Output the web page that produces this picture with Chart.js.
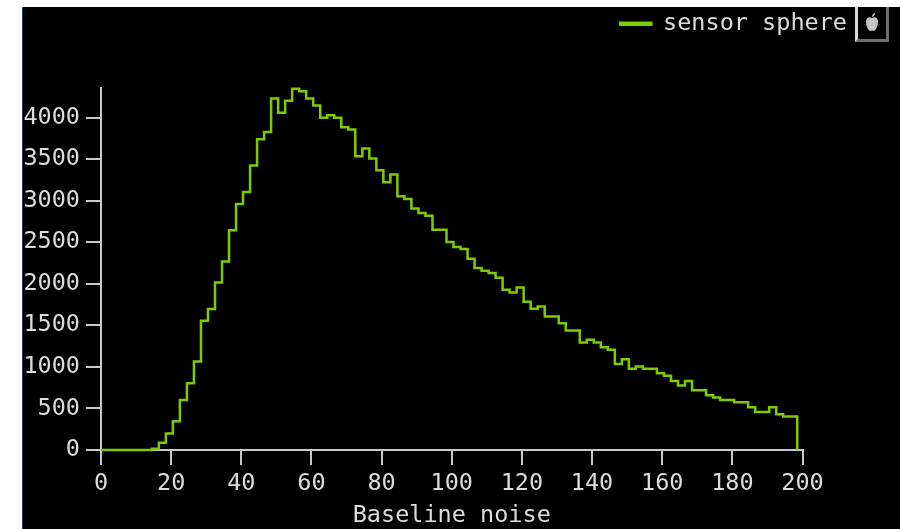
<!DOCTYPE html>
<html>
<head>
<meta charset="utf-8">
<title>Baseline noise</title>
<script src="https://cdn.jsdelivr.net/npm/chart.js@4"></script>
<style>
    html, body { margin: 0; padding: 0; background: #fff; width: 900px; height: 529px; overflow: hidden; }
    #panel { position: absolute; left: 22px; top: 7px; width: 878px; height: 522px; background: #000; border-left: 1px solid #26405f; box-sizing: border-box; }
    #plot { position: absolute; left: 0; top: 0; }
    #icon { position: absolute; left: 855px; top: 7px; width: 34px; height: 35px; box-sizing: border-box; border-left: 3px solid #d8d8d8; border-right: 3px solid #6e6e6e; border-bottom: 3px solid #6e6e6e; }
</style>
</head>
<body>
<div id="panel"></div>
<canvas id="plot" width="900" height="529"></canvas>
<div id="icon">
    <svg width="28" height="32" viewBox="0 0 28 32">
        <path d="M14 11c-2-1.500-6-1.200-6 4 0 4 2.500 9 4.500 9 .8 0 1-.6 1.500-.6s.7.600 1.500.6c2 0 4.500-5 4.500-9 0-5.200-4-5.500-6-4z" fill="#c4c4c4"/>
        <path d="M14 10c0-2 1-3.500 3-4 0 2-1 3.500-3 4z" fill="#c4c4c4"/>
    </svg>
</div>
<script>
const seriesName = 'sensor sphere';
const xTitle = 'Baseline noise';

// left edge of each histogram bin, the first and last are where the trace starts and drops to 0
const binEdges = [0, 14.5, 16.5, 18.5, 20.5, 22.5, 24.5, 26.5, 28.5, 30.5, 32.5, 34.5, 36.5, 38.5, 40.5, 42.5, 44.5, 46.5, 48.5,
    50.5, 52.5, 54.5, 56.5, 58.5, 60.5, 62.5, 64.5, 66.5, 68.5, 70.5, 72.5, 74.5, 76.5, 78.5, 80.5, 82.5, 84.5, 86.5, 88.5,
    90.5, 92.5, 94.5, 96.5, 98.5, 100.5, 102.5, 104.5, 106.5, 108.5, 110.5, 112.5, 114.5, 116.5, 118.5, 120.5, 122.5, 124.5,
    126.5, 128.5, 130.5, 132.5, 134.5, 136.5, 138.5, 140.5, 142.5, 144.5, 146.5, 148.5, 150.5, 152.5, 154.5, 156.5, 158.5,
    160.5, 162.5, 164.5, 166.5, 168.5, 170.5, 172.5, 174.5, 176.5, 178.5, 180.5, 182.5, 184.5, 186.5, 188.5, 190.5, 192.5,
    194.5, 196.5, 198.5];
const binCounts = [0, 15, 88, 200, 345, 602, 803, 1064, 1554, 1695, 2016, 2269, 2643, 2960, 3104, 3422, 3739, 3827, 4229,
    4056, 4201, 4345, 4317, 4229, 4145, 3996, 4028, 3996, 3884, 3855, 3534, 3627, 3506, 3365, 3221, 3313, 3052, 3020, 2904,
    2851, 2819, 2651, 2651, 2502, 2442, 2418, 2301, 2189, 2157, 2129, 2072, 1928, 1895, 1955, 1783, 1699, 1727,
    1606, 1606, 1526, 1438, 1438, 1293, 1325, 1293, 1237, 1205, 1036, 1092, 976, 1004, 976, 976, 924,
    892, 831, 775, 831, 719, 719, 659, 631, 602, 602, 574, 574, 514, 458, 458, 514, 430,
    402, 402, 0];

const xTicks = [0, 20, 40, 60, 80, 100, 120, 140, 160, 180, 200];
const yTicks = [0, 500, 1000, 1500, 2000, 2500, 3000, 3500, 4000];

const axisColor = '#c8c8c8';
const textColor = '#dcdcdc';
const traceColor = '#7ccc00';
const monoFont = { family: '"DejaVu Sans Mono", monospace', size: 23.5 };

const points = [];
for (let i = 0; i < binEdges.length; i++) {
    points.push({ x: binEdges[i], y: binCounts[i] });
}

function plainLabel(value) {
    return String(value);
}

// empty axes, they only reserve the space around the plot that the legend does not need
const spacerAxis = {
    display: true,
    grid: { display: false },
    border: { display: false },
    ticks: { display: false }
};

new Chart(document.getElementById('plot'), {
    type: 'scatter',
    data: {
        datasets: [{
            label: seriesName,
            data: points,
            showLine: true,
            stepped: true,
            borderColor: traceColor,
            backgroundColor: traceColor,
            borderWidth: 2.5,
            pointRadius: 0,
            clip: false
        }]
    },
    options: {
        responsive: false,
        animation: false,
        layout: { padding: { top: 1, right: 42, bottom: 0, left: 0 } },
        plugins: {
            tooltip: { enabled: false },
            legend: {
                position: 'top',
                align: 'end',
                labels: {
                    color: textColor,
                    font: monoFont,
                    boxWidth: 31,
                    boxHeight: 2,
                    padding: 11
                }
            }
        },
        scales: {
            x: {
                type: 'linear',
                min: 0,
                max: 200,
                afterBuildTicks: function (scale) {
                    scale.ticks = xTicks.map(function (v) { return { value: v }; });
                },
                afterFit: function (scale) {
                    scale.height = 79;
                },
                grid: { drawOnChartArea: false, color: axisColor, lineWidth: 2, tickLength: 15 },
                border: { color: axisColor, width: 2 },
                ticks: { color: textColor, font: monoFont, padding: 5, maxRotation: 0, autoSkip: false, callback: plainLabel },
                title: { display: true, text: xTitle, color: textColor, font: monoFont, padding: { top: 4, bottom: -1 } }
            },
            y: {
                min: 0,
                max: 4361,
                afterBuildTicks: function (scale) {
                    scale.ticks = yTicks.map(function (v) { return { value: v }; });
                },
                afterFit: function (scale) {
                    scale.width = 101;
                },
                grid: { drawOnChartArea: false, color: axisColor, lineWidth: 2, tickLength: 15 },
                border: { color: axisColor, width: 2 },
                ticks: { color: textColor, font: monoFont, padding: 6, autoSkip: false, callback: plainLabel }
            },
            rightSpace: Object.assign({}, spacerAxis, {
                position: 'right',
                afterFit: function (scale) {
                    scale.width = 55.5;
                }
            }),
            topSpace: Object.assign({}, spacerAxis, {
                position: 'top',
                afterFit: function (scale) {
                    scale.height = 42;
                }
            })
        }
    }
});
</script>
</body>
</html>
